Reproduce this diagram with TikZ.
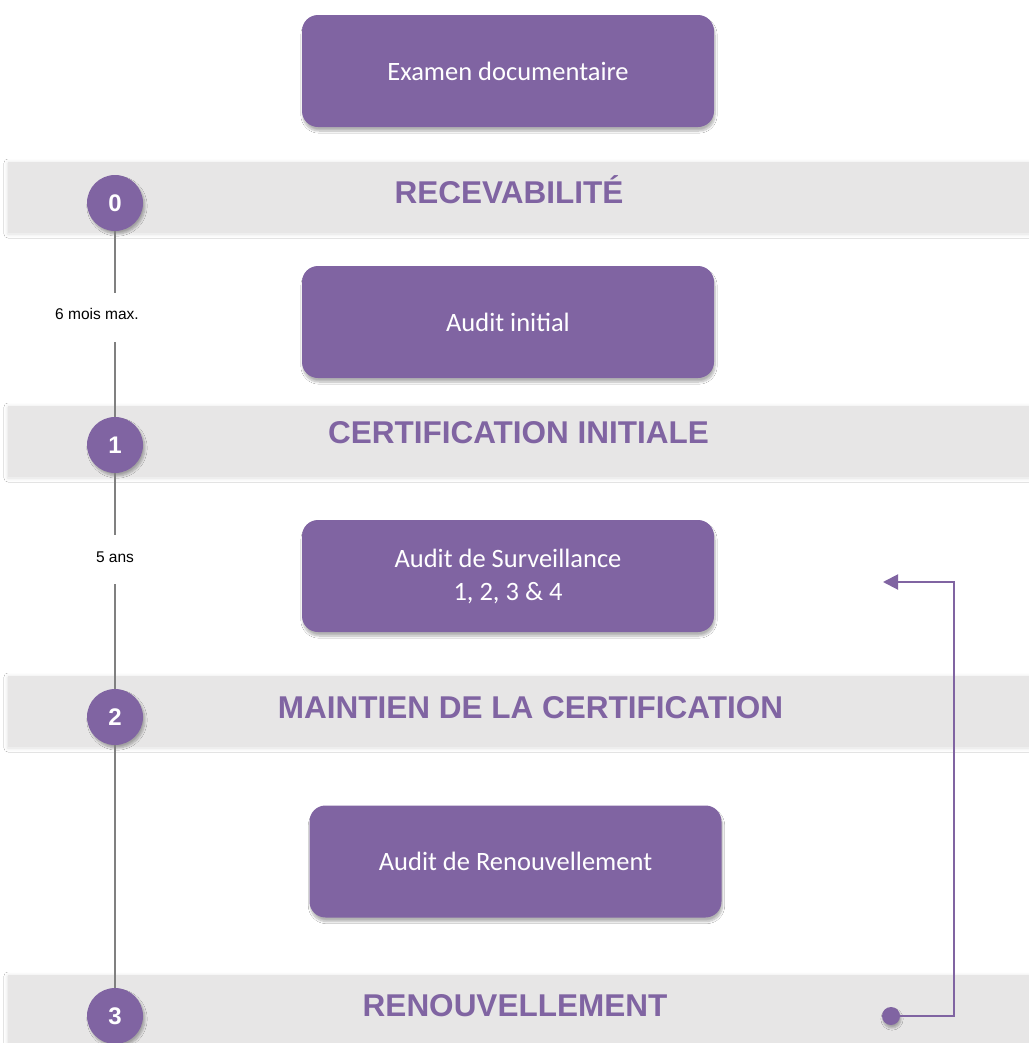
\documentclass[tikz,border=0pt]{standalone}
\usepackage{fontspec}
\setmainfont{Liberation Sans}
\newfontfamily\boxfont{Carlito}
\usetikzlibrary{shadows.blur,arrows.meta}
\definecolor{purp}{HTML}{8064A2}
\definecolor{bandgray}{HTML}{E7E6E6}
\definecolor{tlgray}{HTML}{808080}
\begin{document}
\begin{tikzpicture}[x=1bp,y=-1bp,
  band/.style={fill=bandgray, blur shadow={shadow xshift=0bp,shadow yshift=-1bp,shadow blur steps=6,shadow blur radius=4bp,shadow opacity=12}},
  heading/.style={anchor=base, text=purp, inner sep=0, font=\fontsize{31.5bp}{36bp}\selectfont\bfseries},
  stepbox/.style={fill=purp, rounded corners=16bp, minimum width=412bp, minimum height=112bp, inner sep=0,
    text=white, align=center, font=\boxfont\fontsize{26.5bp}{33bp}\selectfont,
    blur shadow={shadow xshift=1bp,shadow yshift=-4bp,shadow blur steps=8,shadow opacity=30}},
  num/.style={circle, fill=purp, minimum size=56bp, inner sep=0, text=white,
    font=\fontsize{24bp}{28bp}\selectfont\bfseries,
    blur shadow={shadow xshift=2bp,shadow yshift=-3bp,shadow blur steps=8,shadow opacity=30}},
  tl/.style={draw=tlgray, line width=2bp},
  lab/.style={anchor=base, inner sep=0, font=\fontsize{15.5bp}{18bp}\selectfont},
  loopline/.style={draw=purp, line width=2bp}
]
\useasboundingbox (0,0) rectangle (1029,1043);
\fill[white] (0,0) rectangle (1029,1043);

% bands
\fill[band] (8,162) rectangle (1029,233);
\fill[band] (8,406) rectangle (1029,477);
\fill[band] (8,676) rectangle (1029,747);
\fill[band] (8,975) rectangle (1040,1060);

% headings
\node[heading] (h0) at (509,203.5) {RECEVABILITÉ};
\node[heading] (h1) at (518.5,443) {CERTIFICATION INITIALE};
\node[heading] (h2) at (530.5,718) {MAINTIEN DE LA CERTIFICATION};
\node[heading] (h3) at (515,1016.5) {RENOUVELLEMENT};

% boxes
\node[stepbox] (b1) at (508,71) {Examen documentaire};
\node[stepbox] (b2) at (508,322) {Audit initial};
\node[stepbox] (b3) at (508,576) {Audit de Surveillance\\1, 2, 3 \& 4};
\node[stepbox] (b4) at (515.5,861.5) {Audit de Renouvellement};

% duration labels
\node[lab, text height=26.5bp, text depth=22.5bp] (lab1) at (97,319.5) {6 mois max.};
\node[lab, text height=27.5bp, text depth=21.5bp] (lab2) at (115,562.5) {5 ans};

% circles
\node[num] (c0) at (115,203) {0};
\node[num] (c1) at (115,445) {1};
\node[num] (c2) at (115,717) {2};
\node[num] (c3) at (115,1016) {3};

% timeline
\draw[tl] (c0.south) -- (c0.south |- lab1.north);
\draw[tl] (c1.north |- lab1.south) -- (c1.north);
\draw[tl] (c1.south) -- (c1.south |- lab2.north);
\draw[tl] (c2.north |- lab2.south) -- (c2.north);
\draw[tl] (c2.south) -- (c3.north);

% loop arrow
\node[circle, fill=purp, minimum size=18bp, inner sep=0,
  blur shadow={shadow xshift=1bp,shadow yshift=-3bp,shadow blur steps=6,shadow opacity=30}] (dot) at (891,1016) {};
\coordinate (rc) at (954,582);
\coordinate (tip) at (883,582);
\draw[loopline, -{Triangle[length=15bp,width=15bp]}] (dot.east) -| (rc) -- (tip);
\end{tikzpicture}
\end{document}
